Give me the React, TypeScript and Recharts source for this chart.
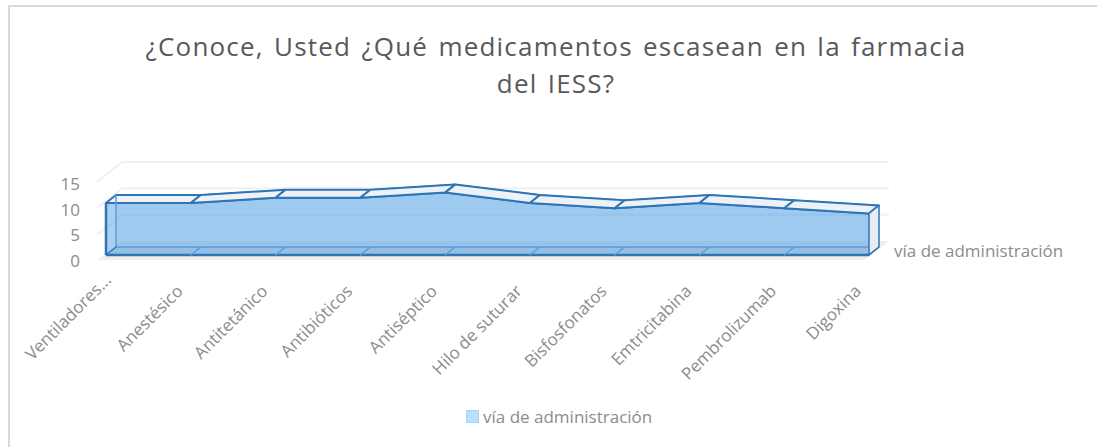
import React from "react";
import { ComposedChart, Area, Line, XAxis, YAxis, ReferenceLine, Legend } from "recharts";

const categories = ["Ventiladores...", "Anestésico", "Antitetánico", "Antibióticos", "Antiséptico", "Hilo de suturar", "Bisfosfonatos", "Emtricitabina", "Pembrolizumab", "Digoxina"];
const seriesValues = [10, 10, 11, 11, 12, 10, 9, 10, 9, 8];
const yTicks = [0, 5, 10, 15];
const seriesName = "vía de administración";
const titleLines = ["¿Conoce, Usted ¿Qué medicamentos escasean en la farmacia", "del IESS?"];

const data = categories.map((c, i) => ({ name: c, v: seriesValues[i] }));

const DX = 10, DY = 8;
const STROKE = "#2e75b6";
const FONT = "'Open Sans', 'Noto Sans', sans-serif";
const TXT = "#8c8c8c";

const YTick = (p: any) => (
  <text x={80} y={p.y + 7} textAnchor="end" fontFamily={FONT} fontSize={17} fill={TXT}>{p.payload.value}</text>
);

const XTick = (p: any) => {
  const first = p.index === 0;
  const x = p.x + (first ? -4 : -17);
  const y = first ? 271 : 282;
  return (
    <text x={0} y={0} transform={`translate(${x},${y}) rotate(-45)`} textAnchor="end" dominantBaseline="hanging"
      fontFamily={FONT} fontSize={17} fill={TXT}>{p.payload.value}</text>
  );
};

const Floor = (p: any) => (
  <g>
    <polygon points={`${p.x1},${p.y1} ${p.x2},${p.y1} ${p.x2 - 25},${p.y1 + 19} ${p.x1 - 25},${p.y1 + 19}`} fill="#eeeeee" />
    <text x={894} y={257} fontFamily={FONT} fontSize={17} fill={TXT}>{seriesName}</text>
  </g>
);

const WallLine = (p: any) => (
  <polyline points={`${p.x1 - 25},${p.y1 + 20} ${p.x1},${p.y1} ${p.x2},${p.y1}`} fill="none" stroke="#f0f0f0" strokeWidth={2} />
);

const Face = (p: any) => {
  const { cx, cy, index, points } = p;
  const next = points && points[index + 1];
  const base = 255;
  return (
    <g>
      {next && (
        <polygon
          points={`${cx},${cy} ${next.x},${next.y} ${next.x + DX},${next.y - DY} ${cx + DX},${cy - DY}`}
          fill="#eef2f7" stroke={STROKE} strokeWidth={2} strokeLinejoin="round" />
      )}
      {next && (
        <polygon points={`${cx},${base} ${next.x},${base} ${next.x + DX},${base - DY} ${cx + DX},${base - DY}`}
          fill={STROKE} fillOpacity={0.1} />
      )}
      {next && <line x1={cx + DX} y1={base - DY} x2={next.x + DX} y2={base - DY} stroke="#5c9bd6" strokeWidth={1.5} />}
      {next && <line x1={cx} y1={base} x2={next.x} y2={base} stroke={STROKE} strokeWidth={2.5} />}
      {index === 0 && <line x1={cx + DX} y1={cy - DY} x2={cx + DX} y2={base - DY} stroke="#5c9bd6" strokeWidth={1.5} />}
      {index === 0 && <line x1={cx} y1={cy} x2={cx} y2={base} stroke={STROKE} strokeWidth={2.5} />}
      {!next && (
        <polygon points={`${cx},${cy} ${cx + DX},${cy - DY} ${cx + DX},${base - DY} ${cx},${base}`}
          fill="#e9edf2" stroke={STROKE} strokeWidth={1.5} strokeLinejoin="round" />
      )}
      <line x1={cx} y1={base} x2={cx + DX} y2={base - DY} stroke={index === 0 || !next ? STROKE : "#5c9bd6"} strokeWidth={1.5} />
    </g>
  );
};

const LegendBox = () => (
  <div style={{ display: "flex", alignItems: "center", fontFamily: FONT, fontSize: 17, color: TXT, whiteSpace: "nowrap" }}>
    <span style={{ width: 11, height: 11, background: "#b9e0ff", border: "1px solid #a8d4f7", marginRight: 4, display: "inline-block" }} />
    {seriesName}
  </div>
);

export default function App() {
  const first = categories[0];
  const last = categories[categories.length - 1];
  return (
    <div style={{ position: "absolute", left: 0, top: 0, width: 1097, height: 447, background: "#fff", overflow: "hidden" }}>
      <div style={{ position: "absolute", left: 8, top: 5, width: 1200, height: 600, border: "2px solid #d9d9d9" }} />
      <div style={{ position: "absolute", left: 0, top: 28, width: 1112, textAlign: "center", fontFamily: FONT, fontSize: 26, lineHeight: "37px", letterSpacing: 1.2, wordSpacing: 2.3, color: "#595959" }}>
        {titleLines.map((t) => <div key={t}>{t}</div>)}
      </div>
      <div style={{ position: "absolute", left: 0, top: 0 }}>
        <ComposedChart width={1097} height={447} data={data} margin={{ top: 160, right: 208, bottom: 0, left: 0 }}>
          <XAxis dataKey="name" xAxisId="front" scale="point" padding={{ left: 9, right: 20 }} interval={0} height={185} axisLine={false} tickLine={false} tick={XTick} />
          <XAxis dataKey="name" xAxisId="back" scale="point" padding={{ left: 19, right: 10 }} hide />
          <XAxis dataKey="name" xAxisId="wall" scale="point" padding={{ left: 25, right: 0 }} hide />
          <YAxis yAxisId="labels" domain={[0, 15]} ticks={yTicks} width={97} padding={{ top: 23, bottom: 2 }} axisLine={false} tickLine={false} tick={YTick} />
          <YAxis yAxisId="wall" domain={[0, 15]} padding={{ top: 2, bottom: 21 }} hide />
          <YAxis yAxisId="front" domain={[0, 15]} padding={{ top: 17, bottom: 7 }} hide />
          <YAxis yAxisId="back" domain={[0, 15]} padding={{ top: 9, bottom: 15 }} hide />
          <Line xAxisId="wall" yAxisId="labels" dataKey="v" stroke="none" dot={false} activeDot={false} legendType="none" isAnimationActive={false} />
          <Line xAxisId="wall" yAxisId="wall" dataKey="v" stroke="none" dot={false} activeDot={false} legendType="none" isAnimationActive={false} />
          <ReferenceLine xAxisId="wall" yAxisId="wall" segment={[{ x: first, y: 0 }, { x: last, y: 0 }]} shape={Floor} zIndex={1} />
          {yTicks.slice(1).map((t) => (
            <ReferenceLine key={t} xAxisId="wall" yAxisId="wall" segment={[{ x: first, y: t }, { x: last, y: t }]} shape={WallLine} zIndex={1} />
          ))}
          <Area xAxisId="back" yAxisId="back" dataKey="v" type="linear" fill="#5aa3e5" fillOpacity={0.12} stroke="#5c9bd6" strokeWidth={1.5} isAnimationActive={false} legendType="none" dot={false} activeDot={false} />
          <Area xAxisId="front" yAxisId="front" dataKey="v" name={seriesName} type="linear" fill="#5aa3e5" fillOpacity={0.52} stroke={STROKE} strokeWidth={2} isAnimationActive={false} dot={false} activeDot={false} />
          <Line xAxisId="front" yAxisId="front" dataKey="v" type="linear" stroke="none" isAnimationActive={false} legendType="none" dot={Face} activeDot={false} />
          <Legend layout="horizontal" verticalAlign="middle" wrapperStyle={{ left: 466, top: 405, width: 220, height: 24 }} content={LegendBox} />
        </ComposedChart>
      </div>
    </div>
  );
}
